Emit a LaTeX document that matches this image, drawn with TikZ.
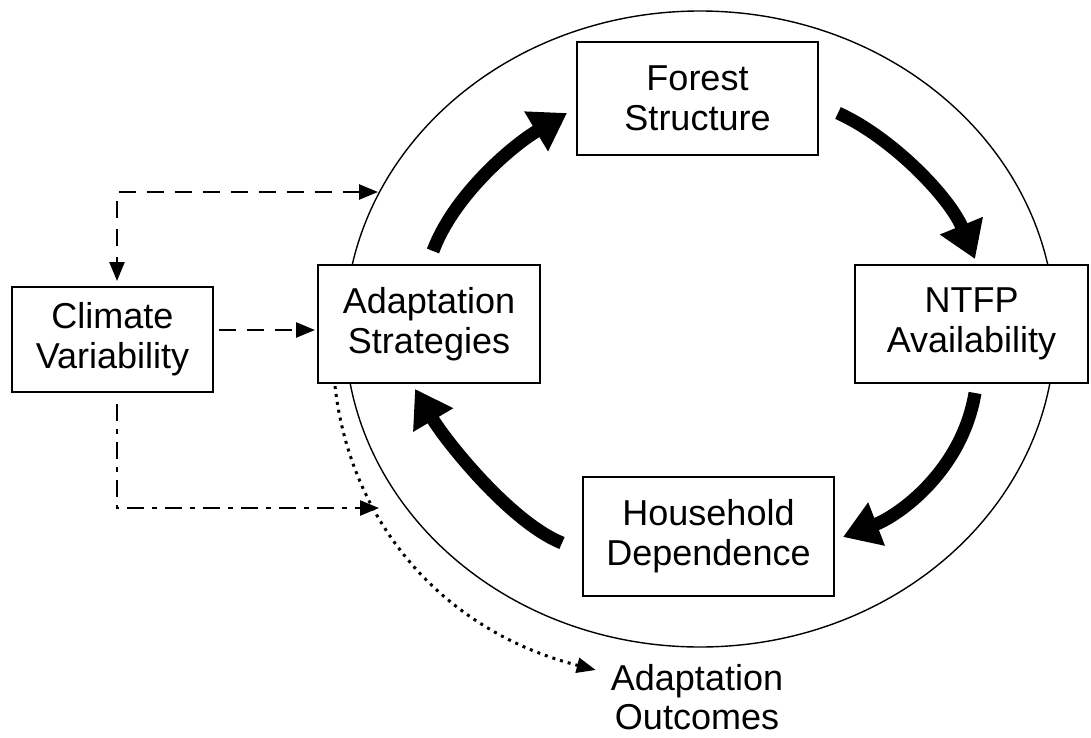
\documentclass[tikz,border=0pt]{standalone}
\usepackage{fontspec}
\setmainfont{Liberation Sans}
\usetikzlibrary{arrows.meta}
\begin{document}
\begin{tikzpicture}[x=1pt,y=-1pt,
  box/.style={draw, line width=2pt, fill=white, align=center, inner sep=0pt,
    font=\fontsize{36}{40}\selectfont},
  bigarrow/.style={line width=13pt, -{Triangle[length=36pt,width=44pt]}},
  smalltip/.style={line width=2.5pt, -{Triangle[length=19pt,width=15pt]}},
  dashline/.style={smalltip, dash pattern=on 17pt off 11pt},
  dashdotline/.style={smalltip, dash pattern=on 17pt off 8pt on 5pt off 8pt},
  dotline/.style={smalltip, line width=3pt, dash pattern=on 3pt off 5pt}]
\fill[white] (0,0) rectangle (1091,738);
\useasboundingbox (0,0) rectangle (1091,738);
% outer ellipse
\draw[line width=1.4pt] (700,329) ellipse [x radius=355pt, y radius=318pt];
% boxes
\node[box, minimum width=201pt, minimum height=105pt] (clim) at (112.5,339.5) {Climate\\Variability};
\node[box, minimum width=222pt, minimum height=118pt] (adapt) at (429,324) {Adaptation\\Strategies};
\node[box, minimum width=241pt, minimum height=113pt] (forest) at (697.5,98.5) {Forest\\Structure};
\node[box, minimum width=233pt, minimum height=118pt] (ntfp) at (971.5,324) {NTFP\\Availability};
\node[box, minimum width=251pt, minimum height=119pt] (house) at (708.5,536.5) {Household\\Dependence};
\node[align=center, inner sep=0pt, font=\fontsize{36}{39}\selectfont] (outc) at (697,697) {Adaptation\\Outcomes};
% free ends of the climate connectors
\coordinate (topend) at (378,192);
\coordinate (botend) at (379,508);
% thick cycle arrows
\draw[bigarrow] ([shift={(4,-13)}]adapt.north) .. controls (453,197) and (510,147) .. ([shift={(-9,14.5)}]forest.west);
\draw[bigarrow] ([shift={(19,14.5)}]forest.east) .. controls (893,138) and (950,198) .. ([shift={(3.5,-5)}]ntfp.north);
\draw[bigarrow] ([shift={(3.5,9)}]ntfp.south) .. controls (962,470) and (900,515) .. ([shift={(8,0.5)}]house.east);
\draw[bigarrow] ([shift={(-20,6.5)}]house.west) .. controls (510,522) and (445,440) .. ([shift={(-14,5)}]adapt.south);
% climate connectors
\draw[dashline, {Triangle[length=19pt,width=15pt]}-{Triangle[length=19pt,width=15pt]}] (topend) -| ([shift={(4.5,-5)}]clim.north);
\draw[dashline] ([shift={(5,-9.5)}]clim.east) -- ([shift={(-2,6)}]adapt.west);
\draw[dashdotline] ([shift={(4.5,11)}]clim.south) |- (botend);
% dotted to outcomes
\draw[dotline] ([shift={(-94,2)}]adapt.south) .. controls (350,520) and (440,630) .. ([shift={(-15,-27)}]outc.west);
\end{tikzpicture}
\end{document}
